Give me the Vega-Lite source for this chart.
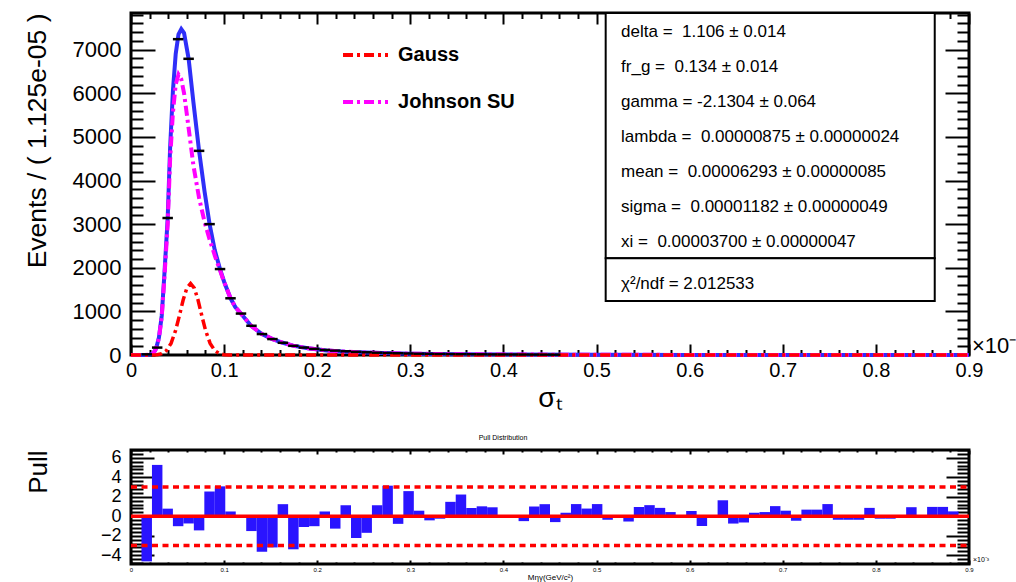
{
  "$schema": "https://vega.github.io/schema/vega-lite/v6.json",
  "padding": {"left": 22, "top": 10, "right": 0, "bottom": 0},
  "spacing": 18,
  "config": {
    "font": "Liberation Sans",
    "view": {"stroke": "black", "strokeWidth": 3},
    "axis": {"grid": false, "domain": false, "tickColor": "black", "tickWidth": 2, "labelColor": "black", "titleColor": "black", "labelFont": "Liberation Sans", "titleFont": "Liberation Sans", "titleFontWeight": "normal", "labelFlush": false, "labelOverlap": false}
  },
  "datasets": {
    "total": [
      {"x": 0, "y": 0}, {"x": 0.015, "y": 0}, {"x": 0.02, "y": 8}, {"x": 0.024, "y": 40}, {"x": 0.027, "y": 150},
      {"x": 0.03, "y": 400}, {"x": 0.033, "y": 900}, {"x": 0.036, "y": 1900}, {"x": 0.0394, "y": 3140}, {"x": 0.042, "y": 4750},
      {"x": 0.045, "y": 6050}, {"x": 0.048, "y": 6900}, {"x": 0.051, "y": 7350}, {"x": 0.054, "y": 7470}, {"x": 0.057, "y": 7380},
      {"x": 0.0619, "y": 6790}, {"x": 0.067, "y": 5800}, {"x": 0.0731, "y": 4680}, {"x": 0.079, "y": 3750}, {"x": 0.0844, "y": 3000},
      {"x": 0.09, "y": 2400}, {"x": 0.0956, "y": 1970}, {"x": 0.1, "y": 1680}, {"x": 0.1069, "y": 1300}, {"x": 0.112, "y": 1100},
      {"x": 0.118, "y": 950}, {"x": 0.129, "y": 670}, {"x": 0.1406, "y": 480}, {"x": 0.152, "y": 365}, {"x": 0.163, "y": 280},
      {"x": 0.174, "y": 215}, {"x": 0.19, "y": 155}, {"x": 0.21, "y": 105}, {"x": 0.23, "y": 75}, {"x": 0.26, "y": 50},
      {"x": 0.3, "y": 30}, {"x": 0.35, "y": 18}, {"x": 0.4, "y": 11}, {"x": 0.5, "y": 5}, {"x": 0.6, "y": 2},
      {"x": 0.7, "y": 1}, {"x": 0.8, "y": 0}, {"x": 0.9, "y": 0}
    ],
    "jsu": [
      {"x": 0, "y": 0}, {"x": 0.015, "y": 0}, {"x": 0.02, "y": 8}, {"x": 0.024, "y": 40}, {"x": 0.027, "y": 148},
      {"x": 0.03, "y": 385}, {"x": 0.033, "y": 870}, {"x": 0.036, "y": 1820}, {"x": 0.0394, "y": 2990}, {"x": 0.042, "y": 4480},
      {"x": 0.045, "y": 5550}, {"x": 0.048, "y": 6200}, {"x": 0.051, "y": 6430}, {"x": 0.054, "y": 6320}, {"x": 0.057, "y": 6000},
      {"x": 0.0619, "y": 5200}, {"x": 0.067, "y": 4350}, {"x": 0.0731, "y": 3600}, {"x": 0.079, "y": 3050}, {"x": 0.0844, "y": 2650},
      {"x": 0.09, "y": 2280}, {"x": 0.0956, "y": 1940}, {"x": 0.1, "y": 1673}, {"x": 0.1069, "y": 1300}, {"x": 0.112, "y": 1100},
      {"x": 0.118, "y": 950}, {"x": 0.129, "y": 670}, {"x": 0.1406, "y": 480}, {"x": 0.152, "y": 365}, {"x": 0.163, "y": 280},
      {"x": 0.174, "y": 215}, {"x": 0.19, "y": 155}, {"x": 0.21, "y": 105}, {"x": 0.23, "y": 75}, {"x": 0.26, "y": 50},
      {"x": 0.3, "y": 30}, {"x": 0.35, "y": 18}, {"x": 0.4, "y": 11}, {"x": 0.5, "y": 5}, {"x": 0.6, "y": 2},
      {"x": 0.7, "y": 1}, {"x": 0.8, "y": 0}, {"x": 0.9, "y": 0}
    ],
    "gauss": [
      {"x": 0, "y": 0}, {"x": 0.02, "y": 0}, {"x": 0.023, "y": 1}, {"x": 0.028, "y": 8}, {"x": 0.033, "y": 31},
      {"x": 0.038, "y": 101}, {"x": 0.043, "y": 266}, {"x": 0.048, "y": 569}, {"x": 0.052, "y": 905}, {"x": 0.056, "y": 1260},
      {"x": 0.06, "y": 1535}, {"x": 0.064, "y": 1640}, {"x": 0.068, "y": 1535}, {"x": 0.072, "y": 1260}, {"x": 0.076, "y": 905},
      {"x": 0.08, "y": 569}, {"x": 0.085, "y": 266}, {"x": 0.09, "y": 101}, {"x": 0.095, "y": 31}, {"x": 0.1, "y": 8},
      {"x": 0.105, "y": 1}, {"x": 0.11, "y": 0}, {"x": 0.9, "y": 0}
    ],
    "points": [
      {"lo": 0.01125, "hi": 0.0225, "n": 15}, {"lo": 0.0225, "hi": 0.03375, "n": 170}, {"lo": 0.03375, "hi": 0.045, "n": 3140},
      {"lo": 0.045, "hi": 0.05625, "n": 7240}, {"lo": 0.05625, "hi": 0.0675, "n": 6790}, {"lo": 0.0675, "hi": 0.07875, "n": 4680},
      {"lo": 0.07875, "hi": 0.09, "n": 3000}, {"lo": 0.09, "hi": 0.10125, "n": 1970}, {"lo": 0.10125, "hi": 0.1125, "n": 1300},
      {"lo": 0.1125, "hi": 0.12375, "n": 950}, {"lo": 0.12375, "hi": 0.135, "n": 670}, {"lo": 0.135, "hi": 0.14625, "n": 480},
      {"lo": 0.14625, "hi": 0.1575, "n": 365}, {"lo": 0.1575, "hi": 0.16875, "n": 280}, {"lo": 0.16875, "hi": 0.18, "n": 210},
      {"lo": 0.18, "hi": 0.19125, "n": 170}, {"lo": 0.19125, "hi": 0.2025, "n": 140}, {"lo": 0.2025, "hi": 0.21375, "n": 115},
      {"lo": 0.21375, "hi": 0.225, "n": 100}, {"lo": 0.225, "hi": 0.23625, "n": 85}, {"lo": 0.23625, "hi": 0.2475, "n": 72},
      {"lo": 0.2475, "hi": 0.25875, "n": 62}, {"lo": 0.25875, "hi": 0.27, "n": 53}, {"lo": 0.27, "hi": 0.28125, "n": 46},
      {"lo": 0.28125, "hi": 0.2925, "n": 40}, {"lo": 0.2925, "hi": 0.30375, "n": 35}, {"lo": 0.30375, "hi": 0.315, "n": 30},
      {"lo": 0.315, "hi": 0.32625, "n": 27}, {"lo": 0.32625, "hi": 0.3375, "n": 24}, {"lo": 0.3375, "hi": 0.34875, "n": 21},
      {"lo": 0.34875, "hi": 0.36, "n": 19}, {"lo": 0.36, "hi": 0.37125, "n": 17}, {"lo": 0.37125, "hi": 0.3825, "n": 15},
      {"lo": 0.3825, "hi": 0.39375, "n": 13}, {"lo": 0.39375, "hi": 0.405, "n": 12}, {"lo": 0.405, "hi": 0.41625, "n": 11},
      {"lo": 0.41625, "hi": 0.4275, "n": 10}, {"lo": 0.4275, "hi": 0.43875, "n": 9}, {"lo": 0.43875, "hi": 0.45, "n": 8},
      {"lo": 0.45, "hi": 0.46125, "n": 7}
    ],
    "pull": [
      {"lo": 0.01125, "hi": 0.0225, "p": -4.63}, {"lo": 0.0225, "hi": 0.03375, "p": 5.27}, {"lo": 0.03375, "hi": 0.045, "p": 0.78},
      {"lo": 0.045, "hi": 0.05625, "p": -1.02}, {"lo": 0.05625, "hi": 0.0675, "p": -0.74}, {"lo": 0.0675, "hi": 0.07875, "p": -1.45},
      {"lo": 0.07875, "hi": 0.09, "p": 2.54}, {"lo": 0.09, "hi": 0.10125, "p": 3.07}, {"lo": 0.10125, "hi": 0.1125, "p": 0.49},
      {"lo": 0.1125, "hi": 0.12375, "p": 0.05}, {"lo": 0.12375, "hi": 0.135, "p": -1.52}, {"lo": 0.135, "hi": 0.14625, "p": -3.64},
      {"lo": 0.14625, "hi": 0.1575, "p": -3.2}, {"lo": 0.1575, "hi": 0.16875, "p": 1.24}, {"lo": 0.16875, "hi": 0.18, "p": -3.39},
      {"lo": 0.18, "hi": 0.19125, "p": -1.1}, {"lo": 0.19125, "hi": 0.2025, "p": -1.02}, {"lo": 0.2025, "hi": 0.21375, "p": 0.49},
      {"lo": 0.21375, "hi": 0.225, "p": -1.27}, {"lo": 0.225, "hi": 0.23625, "p": 1.13}, {"lo": 0.23625, "hi": 0.2475, "p": -2.23},
      {"lo": 0.2475, "hi": 0.25875, "p": -1.7}, {"lo": 0.25875, "hi": 0.27, "p": 1.13}, {"lo": 0.27, "hi": 0.28125, "p": 3.14},
      {"lo": 0.28125, "hi": 0.2925, "p": -0.78}, {"lo": 0.2925, "hi": 0.30375, "p": 2.58}, {"lo": 0.30375, "hi": 0.315, "p": 0.57},
      {"lo": 0.315, "hi": 0.32625, "p": -0.42}, {"lo": 0.32625, "hi": 0.3375, "p": -0.25}, {"lo": 0.3375, "hi": 0.34875, "p": 1.48},
      {"lo": 0.34875, "hi": 0.36, "p": 2.23}, {"lo": 0.36, "hi": 0.37125, "p": 0.85}, {"lo": 0.37125, "hi": 0.3825, "p": 1.02},
      {"lo": 0.3825, "hi": 0.39375, "p": 0.92}, {"lo": 0.41625, "hi": 0.4275, "p": -0.5}, {"lo": 0.4275, "hi": 0.43875, "p": 1.0},
      {"lo": 0.43875, "hi": 0.45, "p": 1.24}, {"lo": 0.45, "hi": 0.46125, "p": -0.6}, {"lo": 0.46125, "hi": 0.4725, "p": 0.36},
      {"lo": 0.4725, "hi": 0.48375, "p": 1.25}, {"lo": 0.48375, "hi": 0.495, "p": 0.79}, {"lo": 0.495, "hi": 0.50625, "p": 1.25},
      {"lo": 0.50625, "hi": 0.5175, "p": -0.36}, {"lo": 0.52875, "hi": 0.54, "p": -0.54}, {"lo": 0.54, "hi": 0.55125, "p": 0.96},
      {"lo": 0.55125, "hi": 0.5625, "p": 1.14}, {"lo": 0.5625, "hi": 0.57375, "p": 0.86}, {"lo": 0.57375, "hi": 0.585, "p": 0.43},
      {"lo": 0.59625, "hi": 0.6075, "p": 0.54}, {"lo": 0.6075, "hi": 0.61875, "p": -1.0}, {"lo": 0.63, "hi": 0.64125, "p": 1.64},
      {"lo": 0.64125, "hi": 0.6525, "p": -0.75}, {"lo": 0.6525, "hi": 0.66375, "p": -0.64}, {"lo": 0.66375, "hi": 0.675, "p": 0.36},
      {"lo": 0.675, "hi": 0.68625, "p": 0.43}, {"lo": 0.68625, "hi": 0.6975, "p": 1.04}, {"lo": 0.6975, "hi": 0.70875, "p": 0.57},
      {"lo": 0.70875, "hi": 0.72, "p": -0.46}, {"lo": 0.72, "hi": 0.73125, "p": 0.68}, {"lo": 0.73125, "hi": 0.7425, "p": 0.68},
      {"lo": 0.7425, "hi": 0.75375, "p": 1.25}, {"lo": 0.75375, "hi": 0.765, "p": -0.36}, {"lo": 0.765, "hi": 0.77625, "p": -0.36},
      {"lo": 0.77625, "hi": 0.7875, "p": -0.36}, {"lo": 0.7875, "hi": 0.79875, "p": 0.86}, {"lo": 0.79875, "hi": 0.81, "p": -0.25},
      {"lo": 0.81, "hi": 0.82125, "p": -0.25}, {"lo": 0.8325, "hi": 0.84375, "p": 0.93}, {"lo": 0.855, "hi": 0.86625, "p": 0.96},
      {"lo": 0.86625, "hi": 0.8775, "p": 0.96}, {"lo": 0.8775, "hi": 0.88875, "p": 0.5}
    ],
    "sig3": [{"v": 3}, {"v": -3}],
    "one": [{}]
  },
  "vconcat": [
    {
      "width": 838,
      "height": 342,
      "resolve": {"axis": {"x": "independent", "y": "independent"}},
      "layer": [
        {
          "data": {"name": "total"},
          "mark": {"type": "line", "color": "#2f2ff8", "strokeWidth": 4},
          "encoding": {
            "x": {"field": "x", "type": "quantitative", "scale": {"domain": [0, 0.9], "nice": false, "zero": false},
              "axis": {"orient": "top", "values": [0, 0.1, 0.2, 0.3, 0.4, 0.5, 0.6, 0.7, 0.8, 0.9], "labels": false, "tickSize": -11, "title": null}},
            "y": {"field": "y", "type": "quantitative", "scale": {"domain": [0, 7840], "nice": false, "zero": false},
              "axis": {"orient": "right", "values": [0, 1000, 2000, 3000, 4000, 5000, 6000, 7000], "labels": false, "tickSize": -24, "title": null}}
          }
        },
        {
          "data": {"name": "jsu"},
          "mark": {"type": "line", "color": "#ff00ff", "strokeWidth": 4, "strokeDash": [10, 4, 3, 4]},
          "encoding": {
            "x": {"field": "x", "type": "quantitative", "scale": {"domain": [0, 0.9], "nice": false, "zero": false},
              "axis": {"orient": "bottom", "values": [0.02, 0.04, 0.06, 0.08, 0.12, 0.14, 0.16, 0.18, 0.22, 0.24, 0.26, 0.28, 0.32, 0.34, 0.36, 0.38, 0.42, 0.44, 0.46, 0.48, 0.52, 0.54, 0.56, 0.58, 0.62, 0.64, 0.66, 0.68, 0.72, 0.74, 0.76, 0.78, 0.82, 0.84, 0.86, 0.88], "labels": false, "tickSize": -5.5, "title": null}},
            "y": {"field": "y", "type": "quantitative", "scale": {"domain": [0, 7840], "nice": false, "zero": false},
              "axis": {"orient": "left", "values": [200, 400, 600, 800, 1200, 1400, 1600, 1800, 2200, 2400, 2600, 2800, 3200, 3400, 3600, 3800, 4200, 4400, 4600, 4800, 5200, 5400, 5600, 5800, 6200, 6400, 6600, 6800, 7200, 7400, 7600, 7800], "labels": false, "tickSize": -12, "title": null}}
          }
        },
        {
          "data": {"name": "gauss"},
          "mark": {"type": "line", "color": "#ff0000", "strokeWidth": 3.5, "strokeDash": [10, 4, 3, 4]},
          "encoding": {
            "x": {"field": "x", "type": "quantitative", "scale": {"domain": [0, 0.9], "nice": false, "zero": false},
              "axis": {"orient": "top", "values": [0.02, 0.04, 0.06, 0.08, 0.12, 0.14, 0.16, 0.18, 0.22, 0.24, 0.26, 0.28, 0.32, 0.34, 0.36, 0.38, 0.42, 0.44, 0.46, 0.48, 0.52, 0.54, 0.56, 0.58, 0.62, 0.64, 0.66, 0.68, 0.72, 0.74, 0.76, 0.78, 0.82, 0.84, 0.86, 0.88], "labels": false, "tickSize": -5.5, "title": null}},
            "y": {"field": "y", "type": "quantitative", "scale": {"domain": [0, 7840], "nice": false, "zero": false},
              "axis": {"orient": "right", "values": [200, 400, 600, 800, 1200, 1400, 1600, 1800, 2200, 2400, 2600, 2800, 3200, 3400, 3600, 3800, 4200, 4400, 4600, 4800, 5200, 5400, 5600, 5800, 6200, 6400, 6600, 6800, 7200, 7400, 7600, 7800], "labels": false, "tickSize": -12, "title": null}}
          }
        },
        {
          "data": {"name": "points"},
          "mark": {"type": "rule", "color": "black", "strokeWidth": 2.5},
          "encoding": {
            "x": {"field": "lo", "type": "quantitative", "scale": {"domain": [0, 0.9], "nice": false, "zero": false},
              "axis": {"orient": "bottom", "values": [0, 0.1, 0.2, 0.3, 0.4, 0.5, 0.6, 0.7, 0.8, 0.9], "format": ".1~f", "tickSize": -11, "labelPadding": 16, "labelFontSize": 20, "title": "σₜ", "titleFontSize": 28, "titlePadding": 4, "minExtent": 25, "maxExtent": 25}},
            "x2": {"field": "hi"},
            "y": {"field": "n", "type": "quantitative", "scale": {"domain": [0, 7840], "nice": false, "zero": false},
              "axis": {"orient": "left", "values": [0, 1000, 2000, 3000, 4000, 5000, 6000, 7000], "format": "d", "tickSize": -24, "labelPadding": 34, "labelFontSize": 22, "title": "Events / ( 1.125e-05 )", "titleFontSize": 26.5, "titleAnchor": "end", "titlePadding": 20, "minExtent": 60, "maxExtent": 60}}
          }
        },
        {
          "data": {"name": "one"},
          "mark": {"type": "rect", "fill": "white", "stroke": "black", "strokeWidth": 2},
          "encoding": {
            "x": {"datum": 0.5098, "type": "quantitative", "axis": null},
            "x2": {"datum": 0.8632},
            "y": {"datum": 7840, "type": "quantitative", "axis": null},
            "y2": {"datum": 2216}
          }
        },
        {
          "data": {"name": "one"},
          "mark": {"type": "rect", "fill": "white", "stroke": "black", "strokeWidth": 2},
          "encoding": {
            "x": {"datum": 0.5098, "type": "quantitative", "axis": null},
            "x2": {"datum": 0.8632},
            "y": {"datum": 2216, "type": "quantitative", "axis": null},
            "y2": {"datum": 1238}
          }
        },
        {
          "data": {"name": "one"},
          "mark": {"type": "text", "align": "left", "baseline": "alphabetic", "fontSize": 17, "lineHeight": 35, "color": "black"},
          "encoding": {
            "x": {"datum": 0.5263, "type": "quantitative", "axis": null},
            "y": {"datum": 7300, "type": "quantitative", "axis": null},
            "text": {"value": ["delta = \u00a01.106 ± 0.014", "fr_g = \u00a00.134 ± 0.014", "gamma = -2.1304 ± 0.064", "lambda = \u00a00.00000875 ± 0.00000024", "mean = \u00a00.00006293 ± 0.00000085", "sigma = \u00a00.00001182 ± 0.00000049", "xi = \u00a00.00003700 ± 0.00000047"]}
          }
        },
        {
          "data": {"name": "one"},
          "mark": {"type": "text", "align": "left", "baseline": "alphabetic", "fontSize": 17, "color": "black"},
          "encoding": {
            "x": {"datum": 0.5263, "type": "quantitative", "axis": null},
            "y": {"datum": 1520, "type": "quantitative", "axis": null},
            "text": {"value": "χ²/ndf = 2.012533"}
          }
        },
        {
          "data": {"name": "one"},
          "mark": {"type": "rule", "color": "#ff0000", "strokeWidth": 4, "strokeDash": [10, 4, 3, 4]},
          "encoding": {
            "x": {"datum": 0.2277, "type": "quantitative", "axis": null},
            "x2": {"datum": 0.276},
            "y": {"datum": 6876, "type": "quantitative", "axis": null}
          }
        },
        {
          "data": {"name": "one"},
          "mark": {"type": "rule", "color": "#ff00ff", "strokeWidth": 4, "strokeDash": [10, 4, 3, 4]},
          "encoding": {
            "x": {"datum": 0.2277, "type": "quantitative", "axis": null},
            "x2": {"datum": 0.276},
            "y": {"datum": 5799, "type": "quantitative", "axis": null}
          }
        },
        {
          "data": {"name": "one"},
          "mark": {"type": "text", "align": "left", "baseline": "middle", "fontSize": 20, "fontWeight": "bold", "color": "black"},
          "encoding": {
            "x": {"datum": 0.2868, "type": "quantitative", "axis": null},
            "y": {"datum": 6876, "type": "quantitative", "axis": null},
            "text": {"value": "Gauss"}
          }
        },
        {
          "data": {"name": "one"},
          "mark": {"type": "text", "align": "left", "baseline": "middle", "fontSize": 20, "fontWeight": "bold", "color": "black"},
          "encoding": {
            "x": {"datum": 0.2868, "type": "quantitative", "axis": null},
            "y": {"datum": 5799, "type": "quantitative", "axis": null},
            "text": {"value": "Johnson SU"}
          }
        },
        {
          "data": {"name": "one"},
          "mark": {"type": "text", "align": "left", "baseline": "middle", "fontSize": 22, "color": "black", "dx": 3, "dy": -9},
          "encoding": {
            "x": {"datum": 0.9, "type": "quantitative", "axis": null},
            "y": {"datum": 0, "type": "quantitative", "axis": null},
            "text": {"value": "×10⁻³"}
          }
        }
      ]
    },
    {
      "width": 838,
      "height": 114,
      "title": {"text": "Pull Distribution", "fontSize": 7, "fontWeight": "normal", "color": "black", "anchor": "middle", "offset": 8, "dx": -47},
      "resolve": {"axis": {"x": "independent", "y": "independent"}},
      "layer": [
        {
          "data": {"name": "pull"},
          "mark": {"type": "rect", "color": "#2a14ff"},
          "encoding": {
            "x": {"field": "lo", "type": "quantitative", "scale": {"domain": [0, 0.9], "nice": false, "zero": false},
              "axis": {"orient": "bottom", "values": [0, 0.1, 0.2, 0.3, 0.4, 0.5, 0.6, 0.7, 0.8, 0.9], "format": ".1~f", "tickSize": -4, "labelPadding": 6, "labelFontSize": 6, "title": "Mηγ(GeV/c²)", "titleFontSize": 8, "titlePadding": 1}},
            "x2": {"field": "hi"},
            "y": {"field": "p", "type": "quantitative", "scale": {"domain": [-4.9, 6.8], "nice": false, "zero": false},
              "axis": {"orient": "left", "values": [-4, -2, 0, 2, 4, 6], "format": "d", "tickSize": -23, "labelPadding": 33, "labelFontSize": 18, "title": "Pull", "titleFontSize": 26, "titleAnchor": "end", "titlePadding": 20, "minExtent": 60, "maxExtent": 60}},
            "y2": {"datum": 0}
          }
        },
        {
          "data": {"name": "one"},
          "mark": {"type": "rule", "color": "#ff0000", "strokeWidth": 3.5},
          "encoding": {
            "x": {"datum": 0, "type": "quantitative", "scale": {"domain": [0, 0.9], "nice": false, "zero": false},
              "axis": {"orient": "top", "values": [0, 0.1, 0.2, 0.3, 0.4, 0.5, 0.6, 0.7, 0.8, 0.9], "labels": false, "tickSize": -4, "title": null}},
            "x2": {"datum": 0.9},
            "y": {"datum": 0, "type": "quantitative", "scale": {"domain": [-4.9, 6.8], "nice": false, "zero": false},
              "axis": {"orient": "right", "values": [-4, -2, 0, 2, 4, 6], "labels": false, "tickSize": -23, "title": null}}
          }
        },
        {
          "data": {"name": "sig3"},
          "mark": {"type": "rule", "color": "#ff0000", "strokeWidth": 3.5, "strokeDash": [6, 4.5]},
          "encoding": {
            "x": {"datum": 0, "type": "quantitative", "scale": {"domain": [0, 0.9], "nice": false, "zero": false},
              "axis": {"orient": "bottom", "values": [0.02, 0.04, 0.06, 0.08, 0.12, 0.14, 0.16, 0.18, 0.22, 0.24, 0.26, 0.28, 0.32, 0.34, 0.36, 0.38, 0.42, 0.44, 0.46, 0.48, 0.52, 0.54, 0.56, 0.58, 0.62, 0.64, 0.66, 0.68, 0.72, 0.74, 0.76, 0.78, 0.82, 0.84, 0.86, 0.88], "labels": false, "tickSize": -2, "title": null}},
            "x2": {"datum": 0.9},
            "y": {"field": "v", "type": "quantitative", "scale": {"domain": [-4.9, 6.8], "nice": false, "zero": false},
              "axis": {"orient": "left", "values": [-4.8, -4.4, -3.6, -3.2, -2.8, -2.4, -1.6, -1.2, -0.8, -0.4, 0.4, 0.8, 1.2, 1.6, 2.4, 2.8, 3.2, 3.6, 4.4, 4.8, 5.2, 5.6, 6.4, 6.8], "labels": false, "tickSize": -12, "title": null}}
          }
        },
        {
          "data": {"name": "one"},
          "mark": {"type": "text", "align": "left", "baseline": "middle", "fontSize": 7, "color": "black", "dx": 4, "dy": -4},
          "encoding": {
            "x": {"datum": 0.9, "type": "quantitative", "scale": {"domain": [0, 0.9], "nice": false, "zero": false},
              "axis": {"orient": "top", "values": [0.02, 0.04, 0.06, 0.08, 0.12, 0.14, 0.16, 0.18, 0.22, 0.24, 0.26, 0.28, 0.32, 0.34, 0.36, 0.38, 0.42, 0.44, 0.46, 0.48, 0.52, 0.54, 0.56, 0.58, 0.62, 0.64, 0.66, 0.68, 0.72, 0.74, 0.76, 0.78, 0.82, 0.84, 0.86, 0.88], "labels": false, "tickSize": -2, "title": null}},
            "y": {"datum": -4.9, "type": "quantitative", "scale": {"domain": [-4.9, 6.8], "nice": false, "zero": false},
              "axis": {"orient": "right", "values": [-4.8, -4.4, -3.6, -3.2, -2.8, -2.4, -1.6, -1.2, -0.8, -0.4, 0.4, 0.8, 1.2, 1.6, 2.4, 2.8, 3.2, 3.6, 4.4, 4.8, 5.2, 5.6, 6.4, 6.8], "labels": false, "tickSize": -12, "title": null}},
            "text": {"value": "×10⁻³"}
          }
        }
      ]
    }
  ]
}
